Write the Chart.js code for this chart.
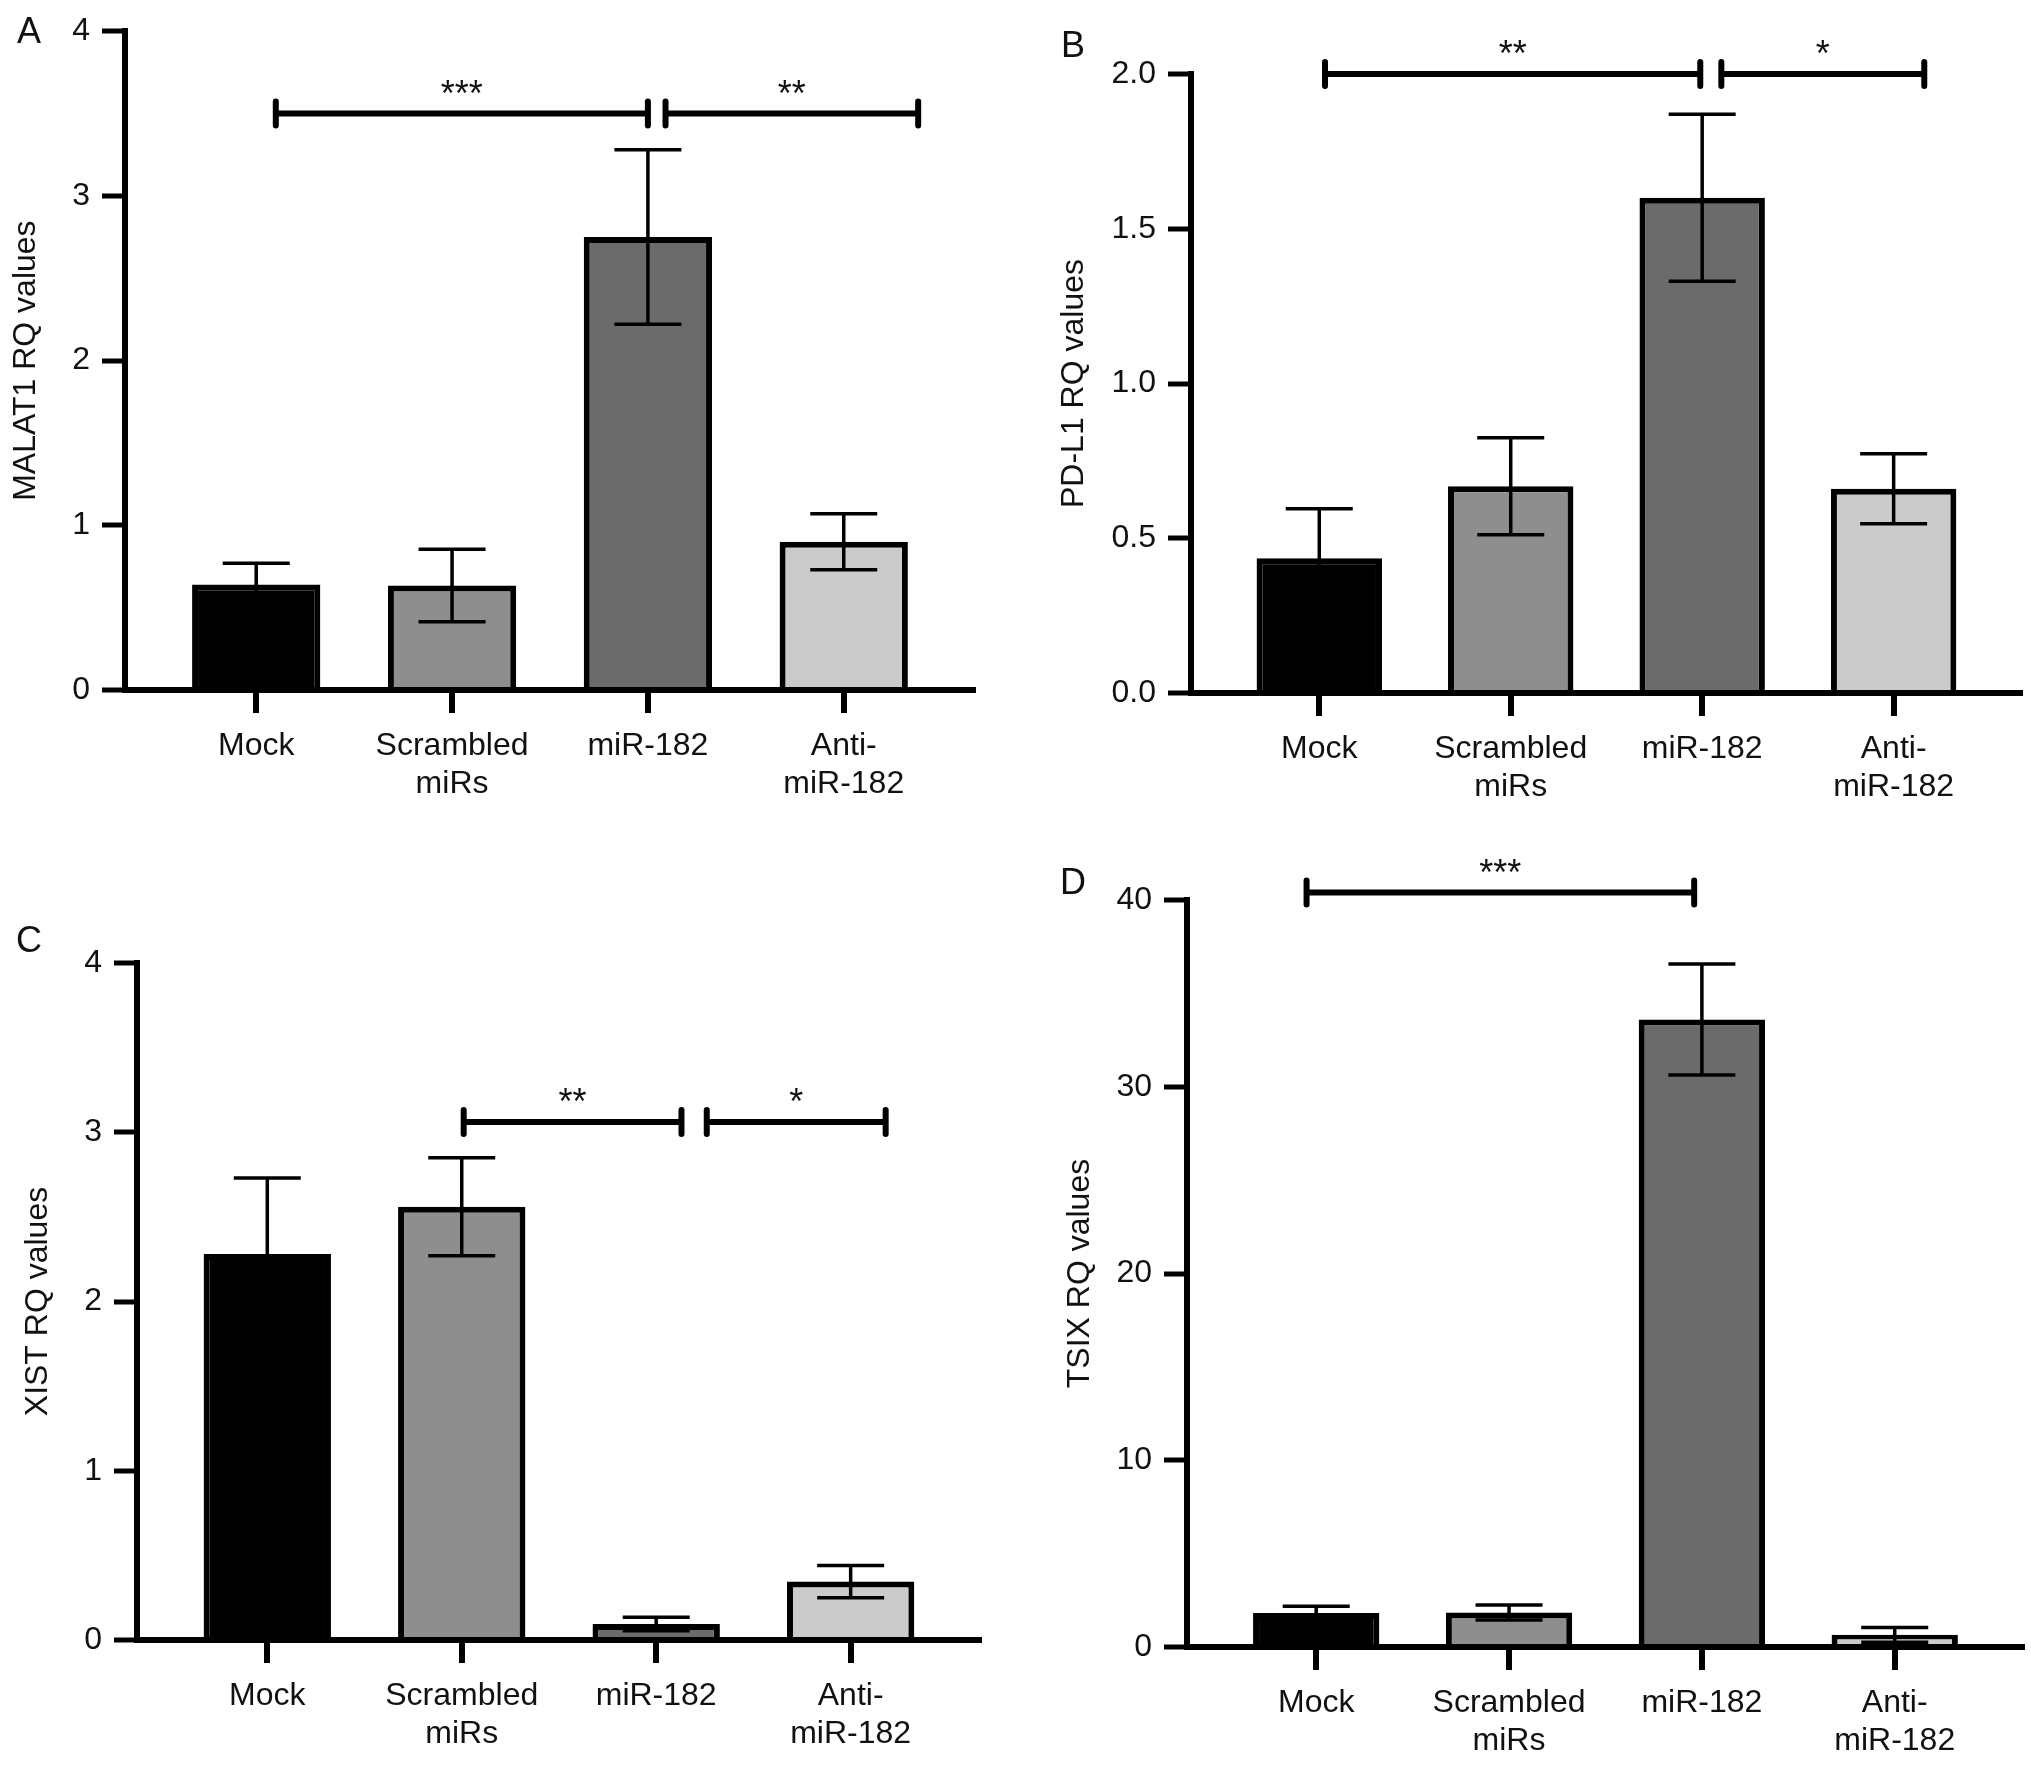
<!DOCTYPE html>
<html><head><meta charset="utf-8">
<script src="https://cdn.jsdelivr.net/npm/chart.js@4.4.1/dist/chart.umd.min.js"></script>
<style>
html,body{margin:0;padding:0;background:#fff;}
#wrap{position:relative;width:2031px;height:1766px;overflow:hidden;background:#fff;}
canvas{position:absolute;}
.lbl{position:absolute;font-family:"Liberation Sans",Arial,sans-serif;font-size:36px;line-height:1;transform:translate(-50%,-50%);color:#111;}
</style></head><body>
<div id="wrap">
<canvas id="cA" width="1015" height="860" style="left:0px;top:0px;width:1015px;height:860px"></canvas>
<canvas id="cB" width="1016" height="860" style="left:1015px;top:0px;width:1016px;height:860px"></canvas>
<canvas id="cC" width="1015" height="946" style="left:0px;top:820px;width:1015px;height:946px"></canvas>
<canvas id="cD" width="1016" height="946" style="left:1015px;top:820px;width:1016px;height:946px"></canvas>
<div class="lbl" style="left:29px;top:31px">A</div>
<div class="lbl" style="left:1073px;top:45px">B</div>
<div class="lbl" style="left:29px;top:940px">C</div>
<div class="lbl" style="left:1073px;top:882px">D</div>
</div>
<script>
// ---- data ----
const categories = [["Mock"], ["Scrambled", "miRs"], ["miR-182"], ["Anti-", "miR-182"]];
const barColors = ["#000000", "#8e8e8e", "#6b6b6b", "#cbcbcb"];

const malat1Values = [0.64, 0.635, 2.75, 0.90];
const malat1Errors = [0.13, 0.22, 0.53, 0.17];
const malat1Ticks = [0, 1, 2, 3, 4];
const malat1Brackets = [[0.10, 2.00, 3.5, "***"], [2.09, 3.38, 3.5, "**"]];

const pdl1Values = [0.435, 0.668, 1.60, 0.66];
const pdl1Errors = [0.16, 0.157, 0.27, 0.113];
const pdl1Ticks = [0, 0.5, 1.0, 1.5, 2.0];
const pdl1Brackets = [[0.03, 1.99, 2.0, "**"], [2.10, 3.16, 2.0, "*"]];

const xistValues = [2.28, 2.56, 0.095, 0.345];
const xistErrors = [0.45, 0.29, 0.04, 0.095];
const xistTicks = [0, 1, 2, 3, 4];
const xistBrackets = [[1.01, 2.13, 3.06, "**"], [2.26, 3.18, 3.06, "*"]];

const tsixValues = [1.82, 1.85, 33.6, 0.65];
const tsixErrors = [0.36, 0.40, 2.97, 0.40];
const tsixTicks = [0, 10, 20, 30, 40];
const tsixBrackets = [[-0.05, 1.96, 40.4, "***"]];

// ---- rendering ----
const FONT = '"Liberation Sans", Arial, sans-serif';
Chart.defaults.font.family = FONT;
Chart.defaults.font.size = 32;
Chart.defaults.color = '#111';

const annot = {
  id: 'annot',
  afterDatasetsDraw(chart, args, opts) {
    const ctx = chart.ctx, xs = chart.scales.x, ys = chart.scales.y;
    const meta = chart.getDatasetMeta(0);
    ctx.save();
    ctx.strokeStyle = '#000';
    ctx.lineWidth = 3.5;
    ctx.lineCap = 'butt';
    meta.data.forEach((el, i) => {
      const v = opts.values[i], e = opts.errors[i];
      const yt = ys.getPixelForValue(v + e);
      const yb = ys.getPixelForValue(Math.max(v - e, 0));
      const hw = 33.5;
      ctx.beginPath();
      ctx.moveTo(el.x, yt); ctx.lineTo(el.x, yb);
      ctx.moveTo(el.x - hw, yt); ctx.lineTo(el.x + hw, yt);
      ctx.moveTo(el.x - hw, yb); ctx.lineTo(el.x + hw, yb);
      ctx.stroke();
    });
    opts.brackets.forEach(b => {
      const x1 = xs.getPixelForValue(b[0]);
      const x2 = xs.getPixelForValue(b[1]);
      const y = ys.getPixelForValue(b[2]);
      ctx.lineWidth = 6;
      ctx.lineCap = 'butt';
      ctx.beginPath();
      ctx.moveTo(x1, y); ctx.lineTo(x2, y);
      ctx.stroke();
      ctx.lineCap = 'round';
      ctx.beginPath();
      ctx.moveTo(x1, y - 12); ctx.lineTo(x1, y + 12);
      ctx.moveTo(x2, y - 12); ctx.lineTo(x2, y + 12);
      ctx.stroke();
      ctx.fillStyle = '#111';
      ctx.font = '36px ' + FONT;
      ctx.textAlign = 'center';
      ctx.textBaseline = 'alphabetic';
      ctx.fillText(b[3], (x1 + x2) / 2, y - 8);
    });
    ctx.restore();
  }
};

function makeChart(id, title, values, errors, ticks, brackets, dec, L) {
  const ctx = document.getElementById(id);
  return new Chart(ctx, {
    type: 'bar',
    data: {
      datasets: [{
        data: values.map((v, i) => ({x: i, y: v})),
        backgroundColor: barColors,
        borderColor: '#000',
        borderWidth: 6,
        borderSkipped: 'start',
        categoryPercentage: 1,
        barPercentage: 0.655
      }]
    },
    options: {
      responsive: false,
      animation: false,
      devicePixelRatio: 1,
      layout: {padding: {left: L.pl, top: L.pt, right: L.pr, bottom: 0}},
      plugins: {
        legend: {display: false},
        tooltip: {enabled: false},
        annot: {values, errors, brackets}
      },
      scales: {
        x: {
          type: 'linear',
          min: -0.67, max: 3.66,
          offset: false,
          z: 1,
          afterBuildTicks: s => { s.ticks = categories.map((c, i) => ({value: i})); },
          afterFit: s => { s.height = L.xh; },
          ticks: {
            callback: v => categories[v],
            padding: 14,
            maxRotation: 0, minRotation: 0, autoSkip: false,
            color: '#111',
            font: {size: 32}
          },
          grid: {offset: false, drawOnChartArea: false, drawTicks: true, tickLength: 23, tickWidth: 6, tickColor: '#000', lineWidth: 6, color: '#000'},
          border: {display: true, width: 6, color: '#000'}
        },
        y: {
          type: 'linear',
          min: ticks[0], max: ticks[ticks.length - 1],
          z: 1,
          afterBuildTicks: s => { s.ticks = ticks.map(v => ({value: v})); },
          afterFit: s => { s.width = L.yw; },
          ticks: {
            callback: v => v.toFixed(dec),
            padding: 12,
            color: '#111',
            font: {size: 32}
          },
          grid: {drawOnChartArea: false, drawTicks: true, tickLength: 23, tickWidth: 5, tickColor: '#000', lineWidth: 6, color: '#000'},
          border: {display: true, width: 6, color: '#000'},
          title: {display: true, text: title, padding: 0, color: '#111', font: {size: 32}}
        }
      }
    },
    plugins: [annot]
  });
}

makeChart('cA', 'MALAT1 RQ values', malat1Values, malat1Errors, malat1Ticks, malat1Brackets, 0,
  {pl: 6.8, yw: 118.2, pt: 25, pr: 42, xh: 170});
makeChart('cB', 'PD-L1 RQ values', pdl1Values, pdl1Errors, pdl1Ticks, pdl1Brackets, 1,
  {pl: 39.8, yw: 136.2, pt: 74, pr: 11, xh: 167});
makeChart('cC', 'XIST RQ values', xistValues, xistErrors, xistTicks, xistBrackets, 0,
  {pl: 18.8, yw: 118.2, pt: 143, pr: 36, xh: 126});
makeChart('cD', 'TSIX RQ values', tsixValues, tsixErrors, tsixTicks, tsixBrackets, 0,
  {pl: 45.8, yw: 126.2, pt: 80, pr: 9, xh: 119});
</script>
</body></html>
